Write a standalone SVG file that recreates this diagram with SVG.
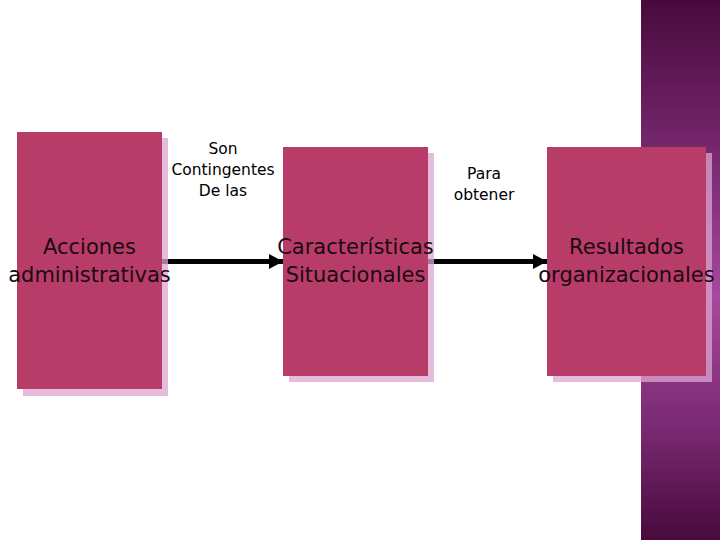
<svg xmlns="http://www.w3.org/2000/svg" width="720" height="540" viewBox="0 0 720 540">
<defs>
<linearGradient id="band" x1="0" y1="0" x2="0" y2="1">
<stop offset="0" stop-color="#480a3c"/>
<stop offset="0.3" stop-color="#7a2a72"/>
<stop offset="0.55" stop-color="#a8489e"/>
<stop offset="0.8" stop-color="#782870"/>
<stop offset="1" stop-color="#480a3c"/>
</linearGradient>
<marker id="ah" markerWidth="14" markerHeight="15" refX="14" refY="7.5" orient="auto" markerUnits="userSpaceOnUse">
<path d="M0,0 L14,7.5 L0,15 Z" fill="#000"/>
</marker>
</defs>
<style>
.box{fill:#b83c68}
.sh{fill:#dca6cf;opacity:0.75}
.big{font-family:"DejaVu Sans",Verdana,sans-serif;font-size:21px;fill:#1a0a12;text-anchor:middle}
.lbl{font-family:"DejaVu Sans",Verdana,sans-serif;font-size:15.5px;fill:#000;text-anchor:middle}
.con{stroke:#000;stroke-width:5;fill:none}
</style>
<rect x="0" y="0" width="720" height="540" fill="#fff"/>
<rect x="641" y="0" width="79" height="540" fill="url(#band)"/>
<g id="connectors">
<line class="con" x1="162" y1="261.5" x2="283" y2="261.5" marker-end="url(#ah)"/>
<line class="con" x1="428" y1="261.5" x2="547" y2="261.5" marker-end="url(#ah)"/>
<text class="lbl" x="223" y="154">Son</text>
<text class="lbl" x="223" y="175">Contingentes</text>
<text class="lbl" x="223" y="196">De las</text>
<text class="lbl" x="484" y="179">Para</text>
<text class="lbl" x="484" y="200">obtener</text>
</g>
<g id="n1">
<rect class="sh" x="23" y="138" width="145" height="258"/>
<rect class="box" x="17" y="132" width="145" height="257"/>
<text class="big" x="89.5" y="254">Acciones</text>
<text class="big" x="89.5" y="282">administrativas</text>
</g>
<g id="n2">
<rect class="sh" x="289" y="153" width="145" height="229"/>
<rect class="box" x="283" y="147" width="145" height="229"/>
<text class="big" x="355.5" y="254">Características</text>
<text class="big" x="355.5" y="282">Situacionales</text>
</g>
<g id="n3">
<rect class="sh" x="553" y="153" width="159" height="229"/>
<rect class="box" x="547" y="147" width="159" height="229"/>
<text class="big" x="626.5" y="254">Resultados</text>
<text class="big" x="626.5" y="282">organizacionales</text>
</g>
</svg>
